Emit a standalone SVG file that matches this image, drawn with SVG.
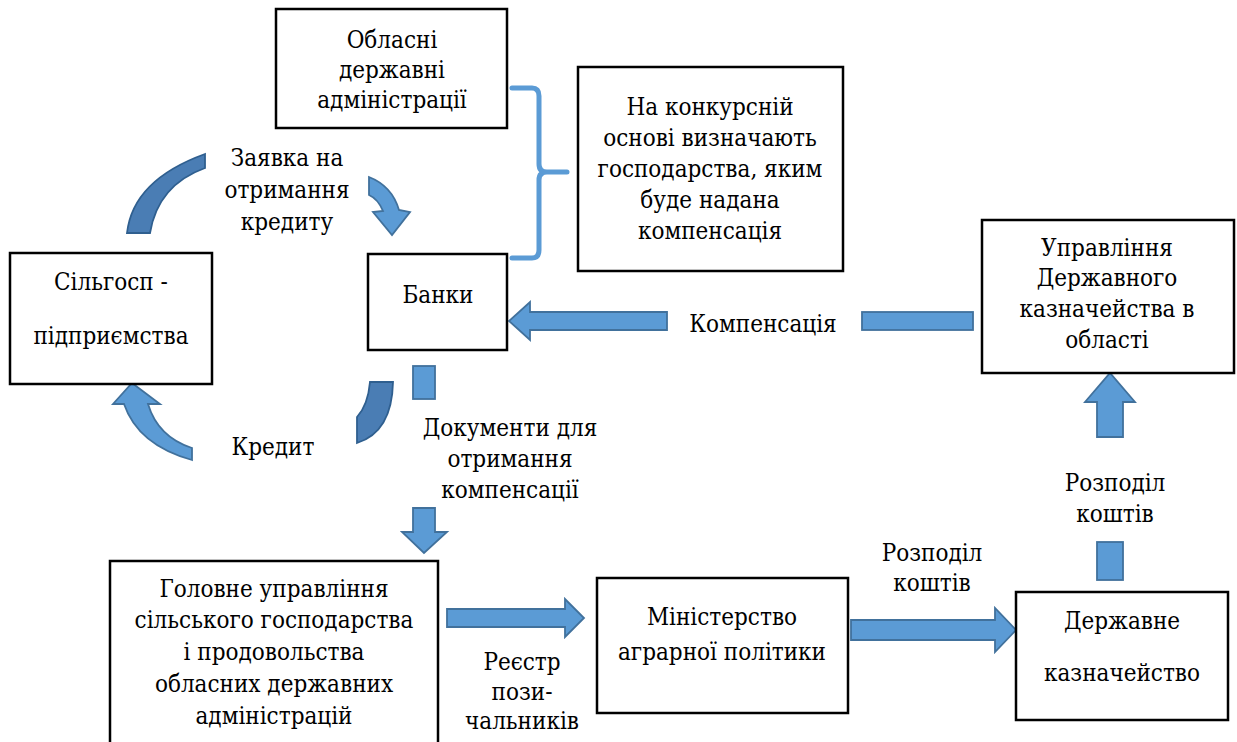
<svg xmlns="http://www.w3.org/2000/svg" width="1237" height="742" viewBox="0 0 1237 742">
<style>
.box{fill:#fff;stroke:#000;stroke-width:2.5}
.t{font-family:'DejaVu Serif Condensed','DejaVu Serif',serif;font-stretch:condensed;font-size:24px;fill:#000;text-anchor:middle}
.ar{fill:#5B9BD5;stroke:#41719C;stroke-width:1.8;stroke-linejoin:miter}
.dk{fill:#4A7DB4;stroke:#2F5F8F;stroke-width:1.8}
.brace{fill:none;stroke:#5B9BD5;stroke-width:5;stroke-linecap:round;stroke-linejoin:round}
</style>
<rect width="1237" height="742" fill="#fff"/>
<g id="connectors">
  <path class="dk" d="M127,233 Q133,180 205,154 L205,168 Q158,185 150,233 Z"/>
  <path class="ar" d="M369,177 Q392,186 399,210 L410,212 L392,235 L373,212 L383,211 Q378,199 369,195 Z"/>
  <rect x="206" y="138" width="162" height="104" fill="#fff"/>
  <path class="dk" d="M370,382 L393,382 Q392,432 357,443 L357,417 Q368,405 370,382 Z"/>
  <path class="ar" d="M192,460 Q138,445 124,404 L113,404 L132,383 L160,404 L148,404 Q158,437 192,448 Z"/>
  <path class="brace" d="M512,88 L532,88 Q539,88 539,96 L539,164 Q539,172 547,172 L567,172 M547,172 Q539,172 539,180 L539,250 Q539,258 532,258 L512,258"/>
  <path class="ar" d="M667,312 L530,312 L530,302 L509,321 L530,340 L530,330 L667,330 Z"/>
  <rect class="ar" x="862" y="312" width="111" height="18"/>
  <rect class="ar" x="413" y="366" width="22" height="33"/>
  <path class="ar" d="M413,508 L435,508 L435,532 L447,532 L424,553 L402,532 L413,532 Z"/>
  <path class="ar" d="M447,609 L565,609 L565,599 L584,618 L565,637 L565,627 L447,627 Z"/>
  <path class="ar" d="M851,620 L995,620 L995,608 L1016,630 L995,652 L995,640 L851,640 Z"/>
  <path class="ar" d="M1097,437 L1097,402 L1085,402 L1110,373 L1135,402 L1123,402 L1123,437 Z"/>
  <rect class="ar" x="1097" y="542" width="26" height="38"/>
</g>
<g id="labels">
  <text class="t" x="287" y="166">Заявка на</text>
  <text class="t" x="287" y="198">отримання</text>
  <text class="t" x="287" y="230">кредиту</text>
  <text class="t" x="273" y="455">Кредит</text>
  <text class="t" x="510" y="436">Документи для</text>
  <text class="t" x="510" y="467">отримання</text>
  <text class="t" x="510" y="498">компенсації</text>
  <text class="t" x="763" y="332">Компенсація</text>
  <text class="t" x="932" y="561">Розподіл</text>
  <text class="t" x="932" y="591">коштів</text>
  <text class="t" x="1115" y="491">Розподіл</text>
  <text class="t" x="1115" y="522">коштів</text>
  <text class="t" x="522" y="670">Реєстр</text>
  <text class="t" x="522" y="700">пози-</text>
  <text class="t" x="522" y="729">чальників</text>
</g>
<g id="node-oda">
  <rect class="box" x="276" y="9" width="231" height="119"/>
  <text class="t" x="392" y="48">Обласні</text>
  <text class="t" x="392" y="78">державні</text>
  <text class="t" x="392" y="108">адміністрації</text>
</g>
<g id="node-competition">
  <rect class="box" x="578" y="67" width="265" height="204"/>
  <text class="t" x="710" y="115">На конкурсній</text>
  <text class="t" x="710" y="146">основі визначають</text>
  <text class="t" x="710" y="177">господарства, яким</text>
  <text class="t" x="710" y="208">буде надана</text>
  <text class="t" x="710" y="239">компенсація</text>
</g>
<g id="node-treasury-region">
  <rect class="box" x="982" y="220" width="252" height="153"/>
  <text class="t" x="1107" y="256">Управління</text>
  <text class="t" x="1107" y="286">Державного</text>
  <text class="t" x="1107" y="317">казначейства в</text>
  <text class="t" x="1107" y="348">області</text>
</g>
<g id="node-farms">
  <rect class="box" x="10" y="253" width="202" height="131"/>
  <text class="t" x="111" y="290">Сільгосп -</text>
  <text class="t" x="111" y="344">підприємства</text>
</g>
<g id="node-banks">
  <rect class="box" x="368" y="254" width="139" height="96"/>
  <text class="t" x="438" y="303">Банки</text>
</g>
<g id="node-main-dept">
  <rect class="box" x="110" y="561" width="328" height="190"/>
  <text class="t" x="274" y="597">Головне управління</text>
  <text class="t" x="274" y="628">сільського господарства</text>
  <text class="t" x="274" y="660">і продовольства</text>
  <text class="t" x="274" y="692">обласних державних</text>
  <text class="t" x="274" y="724">адміністрацій</text>
</g>
<g id="node-ministry">
  <rect class="box" x="597" y="578" width="251" height="135"/>
  <text class="t" x="722" y="625">Міністерство</text>
  <text class="t" x="722" y="660">аграрної політики</text>
</g>
<g id="node-treasury">
  <rect class="box" x="1016" y="592" width="212" height="128"/>
  <text class="t" x="1122" y="629">Державне</text>
  <text class="t" x="1122" y="681">казначейство</text>
</g>
</svg>
